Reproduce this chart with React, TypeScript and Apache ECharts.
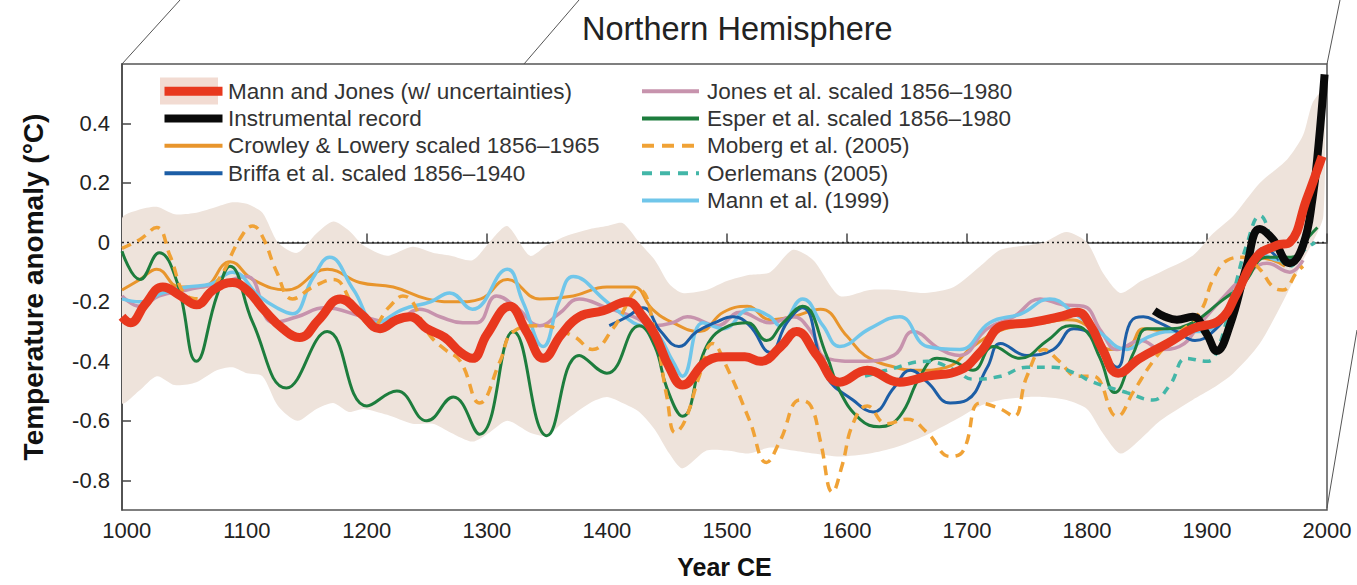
import React, { useEffect, useRef } from 'react';
import * as echarts from 'echarts';

const TITLE = 'Northern Hemisphere';
const X_NAME = 'Year CE';
const Y_NAME = 'Temperature anomaly (°C)';
const X_TICKS = [1000, 1100, 1200, 1300, 1400, 1500, 1600, 1700, 1800, 1900, 2000];
const Y_TICKS = [-0.8, -0.6, -0.4, -0.2, 0, 0.2, 0.4];
const ZERO_LINE: [number, number][] = [[996, 0], [2000, 0]];

const NAMES = {
  mj: 'Mann and Jones (w/ uncertainties)',
  instr: 'Instrumental record',
  crowley: 'Crowley & Lowery scaled 1856–1965',
  briffa: 'Briffa et al. scaled 1856–1940',
  jones: 'Jones et al. scaled 1856–1980',
  esper: 'Esper et al. scaled 1856–1980',
  moberg: 'Moberg et al. (2005)',
  oerlemans: 'Oerlemans (2005)',
  mann99: 'Mann et al. (1999)',
};

// Mann & Jones uncertainty band
const bandYears = [996, 1010, 1025, 1040, 1058, 1075, 1088, 1100, 1113, 1126, 1142, 1158, 1172, 1185, 1197, 1217, 1238, 1255, 1270, 1288, 1302, 1317, 1336, 1350, 1365, 1386, 1400, 1413, 1427, 1440, 1452, 1463, 1483, 1500, 1518, 1536, 1555, 1572, 1594, 1619, 1640, 1665, 1689, 1711, 1728, 1750, 1764, 1783, 1800, 1813, 1828, 1845, 1861, 1888, 1905, 1922, 1944, 1967, 1980, 1988, 1997];
const bandLower = [-0.54, -0.5, -0.45, -0.48, -0.47, -0.43, -0.42, -0.44, -0.45, -0.55, -0.6, -0.56, -0.54, -0.57, -0.56, -0.58, -0.61, -0.61, -0.64, -0.67, -0.64, -0.6, -0.64, -0.65, -0.6, -0.54, -0.52, -0.54, -0.57, -0.63, -0.71, -0.76, -0.7, -0.7, -0.71, -0.69, -0.7, -0.71, -0.72, -0.71, -0.69, -0.65, -0.6, -0.55, -0.53, -0.52, -0.52, -0.53, -0.56, -0.64, -0.71, -0.66, -0.6, -0.53, -0.49, -0.44, -0.34, -0.17, -0.06, 0.0, 0.09];
const bandUpper = [0.08, 0.11, 0.12, 0.095, 0.1, 0.12, 0.135, 0.13, 0.1, 0.0, -0.035, 0.03, 0.07, 0.04, -0.01, -0.045, -0.015, -0.035, -0.045, -0.06, 0.0, 0.055, -0.045, -0.01, 0.02, 0.045, 0.055, 0.065, 0.0, -0.06, -0.14, -0.17, -0.16, -0.13, -0.11, -0.1, -0.025, -0.06, -0.18, -0.16, -0.16, -0.17, -0.15, -0.08, -0.025, -0.01, 0.0, 0.035, 0.0, -0.1, -0.17, -0.13, -0.1, -0.045, 0.03, 0.09, 0.2, 0.28, 0.36, 0.47, 0.51];

const mannJones: [number, number][] = [[996, -0.25], [1003, -0.27], [1015, -0.21], [1030, -0.15], [1045, -0.18], [1058, -0.21], [1072, -0.16], [1088, -0.135], [1100, -0.16], [1115, -0.23], [1130, -0.29], [1144, -0.32], [1160, -0.26], [1178, -0.19], [1195, -0.24], [1211, -0.29], [1225, -0.26], [1236, -0.25], [1250, -0.29], [1265, -0.32], [1278, -0.37], [1288, -0.39], [1300, -0.31], [1319, -0.215], [1333, -0.3], [1347, -0.39], [1362, -0.31], [1377, -0.25], [1397, -0.23], [1417, -0.2], [1430, -0.25], [1440, -0.31], [1452, -0.42], [1463, -0.48], [1483, -0.4], [1500, -0.385], [1515, -0.385], [1528, -0.4], [1545, -0.35], [1558, -0.3], [1575, -0.38], [1594, -0.47], [1617, -0.43], [1644, -0.47], [1667, -0.45], [1694, -0.43], [1711, -0.37], [1730, -0.28], [1753, -0.27], [1777, -0.25], [1792, -0.235], [1803, -0.28], [1813, -0.36], [1826, -0.44], [1844, -0.39], [1867, -0.34], [1888, -0.29], [1911, -0.26], [1925, -0.17], [1941, -0.05], [1958, -0.01], [1969, 0.0], [1983, 0.145], [1996, 0.29]];

const instrumental: [number, number][] = [[1856, -0.23], [1865, -0.25], [1875, -0.26], [1888, -0.25], [1900, -0.31], [1908, -0.365], [1919, -0.28], [1933, -0.08], [1944, 0.045], [1955, 0.01], [1969, -0.07], [1980, -0.01], [1988, 0.15], [1993, 0.33], [1998, 0.565]];

const crowley: [number, number][] = [[996, -0.16], [1011, -0.125], [1025, -0.09], [1044, -0.15], [1063, -0.15], [1086, -0.065], [1105, -0.125], [1133, -0.16], [1167, -0.09], [1194, -0.135], [1222, -0.15], [1250, -0.19], [1275, -0.2], [1295, -0.19], [1317, -0.125], [1344, -0.19], [1372, -0.18], [1400, -0.15], [1422, -0.15], [1438, -0.225], [1455, -0.27], [1477, -0.3], [1497, -0.235], [1517, -0.215], [1536, -0.26], [1555, -0.25], [1578, -0.225], [1600, -0.315], [1615, -0.38], [1640, -0.42], [1660, -0.43], [1683, -0.42], [1705, -0.35], [1725, -0.3], [1744, -0.28], [1765, -0.27], [1783, -0.26], [1800, -0.28], [1819, -0.36], [1835, -0.35], [1847, -0.29], [1870, -0.3], [1890, -0.29], [1910, -0.27], [1925, -0.18], [1940, -0.05], [1955, -0.06], [1965, -0.08]];

const briffa: [number, number][] = [[1402, -0.28], [1417, -0.25], [1430, -0.22], [1445, -0.3], [1460, -0.35], [1475, -0.3], [1490, -0.27], [1505, -0.25], [1519, -0.28], [1536, -0.37], [1550, -0.27], [1563, -0.22], [1583, -0.45], [1605, -0.53], [1622, -0.57], [1639, -0.49], [1653, -0.43], [1667, -0.47], [1686, -0.54], [1700, -0.53], [1717, -0.42], [1728, -0.34], [1750, -0.38], [1772, -0.36], [1789, -0.29], [1800, -0.3], [1812, -0.36], [1825, -0.42], [1836, -0.27], [1847, -0.25], [1860, -0.27], [1875, -0.3], [1890, -0.33], [1905, -0.3], [1920, -0.22], [1935, -0.08], [1948, -0.02], [1960, -0.06]];

const jones: [number, number][] = [[996, -0.18], [1011, -0.215], [1027, -0.18], [1050, -0.16], [1075, -0.14], [1100, -0.115], [1122, -0.27], [1142, -0.25], [1165, -0.22], [1197, -0.25], [1222, -0.27], [1244, -0.225], [1261, -0.25], [1280, -0.27], [1292, -0.27], [1308, -0.18], [1325, -0.22], [1344, -0.28], [1360, -0.24], [1377, -0.19], [1400, -0.22], [1422, -0.25], [1440, -0.28], [1455, -0.27], [1467, -0.25], [1492, -0.28], [1511, -0.235], [1536, -0.27], [1555, -0.25], [1570, -0.3], [1583, -0.39], [1611, -0.4], [1639, -0.38], [1655, -0.3], [1678, -0.36], [1694, -0.38], [1717, -0.29], [1739, -0.25], [1761, -0.19], [1780, -0.21], [1797, -0.215], [1812, -0.3], [1825, -0.36], [1845, -0.33], [1862, -0.36], [1877, -0.35], [1895, -0.27], [1917, -0.17], [1935, -0.1], [1950, -0.07], [1969, -0.1], [1980, -0.06]];

const esper: [number, number][] = [[996, -0.03], [1011, -0.125], [1027, -0.035], [1042, -0.135], [1058, -0.4], [1075, -0.18], [1086, -0.08], [1105, -0.27], [1133, -0.49], [1167, -0.3], [1200, -0.55], [1225, -0.5], [1250, -0.6], [1272, -0.52], [1294, -0.645], [1322, -0.3], [1350, -0.65], [1377, -0.38], [1400, -0.44], [1427, -0.28], [1440, -0.35], [1450, -0.49], [1463, -0.585], [1483, -0.35], [1502, -0.28], [1517, -0.27], [1533, -0.33], [1547, -0.27], [1563, -0.215], [1583, -0.38], [1594, -0.5], [1611, -0.595], [1627, -0.62], [1644, -0.585], [1661, -0.45], [1675, -0.39], [1689, -0.4], [1705, -0.43], [1722, -0.35], [1744, -0.39], [1767, -0.33], [1786, -0.28], [1797, -0.29], [1811, -0.39], [1823, -0.505], [1839, -0.37], [1850, -0.29], [1867, -0.29], [1888, -0.27], [1911, -0.2], [1930, -0.14], [1950, -0.05], [1970, -0.05], [1985, 0.02], [1992, 0.05]];

const moberg: [number, number][] = [[996, -0.02], [1011, 0.01], [1025, 0.05], [1036, -0.045], [1050, -0.18], [1062, -0.19], [1078, -0.115], [1094, 0.01], [1105, 0.055], [1113, 0.02], [1125, -0.1], [1138, -0.19], [1155, -0.15], [1172, -0.125], [1190, -0.22], [1205, -0.28], [1218, -0.22], [1230, -0.18], [1253, -0.315], [1265, -0.36], [1278, -0.4], [1294, -0.54], [1311, -0.4], [1322, -0.3], [1344, -0.28], [1372, -0.315], [1388, -0.36], [1405, -0.29], [1427, -0.16], [1440, -0.3], [1450, -0.52], [1457, -0.64], [1465, -0.6], [1477, -0.45], [1488, -0.34], [1500, -0.42], [1519, -0.6], [1533, -0.74], [1544, -0.67], [1561, -0.53], [1570, -0.55], [1578, -0.67], [1588, -0.84], [1596, -0.75], [1605, -0.61], [1617, -0.55], [1633, -0.61], [1650, -0.595], [1667, -0.64], [1686, -0.72], [1697, -0.7], [1711, -0.54], [1728, -0.56], [1739, -0.585], [1750, -0.45], [1764, -0.36], [1777, -0.4], [1792, -0.45], [1805, -0.45], [1825, -0.585], [1839, -0.5], [1855, -0.4], [1870, -0.33], [1894, -0.235], [1905, -0.125], [1917, -0.06], [1930, -0.05], [1944, -0.09], [1955, -0.15], [1963, -0.16], [1975, -0.1], [1980, -0.08]];

const oerlemans: [number, number][] = [[1615, -0.45], [1633, -0.43], [1667, -0.4], [1690, -0.43], [1705, -0.46], [1728, -0.45], [1750, -0.42], [1772, -0.42], [1790, -0.44], [1805, -0.47], [1833, -0.505], [1855, -0.53], [1869, -0.48], [1883, -0.39], [1900, -0.4], [1908, -0.37], [1922, -0.17], [1933, -0.01], [1944, 0.09], [1958, -0.035], [1969, -0.08], [1980, -0.03], [1990, 0.0]];

const mann99: [number, number][] = [[996, -0.19], [1011, -0.2], [1030, -0.17], [1050, -0.15], [1070, -0.14], [1088, -0.1], [1110, -0.18], [1125, -0.22], [1138, -0.24], [1155, -0.12], [1169, -0.05], [1189, -0.16], [1208, -0.27], [1230, -0.225], [1253, -0.2], [1269, -0.17], [1288, -0.225], [1317, -0.09], [1330, -0.2], [1347, -0.35], [1360, -0.2], [1372, -0.115], [1400, -0.2], [1422, -0.27], [1440, -0.3], [1455, -0.4], [1463, -0.45], [1480, -0.27], [1497, -0.29], [1519, -0.225], [1536, -0.25], [1544, -0.28], [1563, -0.19], [1580, -0.28], [1594, -0.35], [1619, -0.29], [1644, -0.25], [1667, -0.35], [1694, -0.36], [1719, -0.27], [1745, -0.24], [1769, -0.19], [1790, -0.24], [1810, -0.3], [1833, -0.36], [1850, -0.32], [1870, -0.3], [1890, -0.3], [1910, -0.27], [1930, -0.12], [1945, -0.04], [1960, -0.06], [1975, -0.05], [1980, -0.02]];

const COLORS = {
  mj: '#e8381e',
  instr: '#0a0a0a',
  crowley: '#e8952c',
  briffa: '#1c5ea6',
  jones: '#c793ad',
  esper: '#1d7d3d',
  moberg: '#f0a236',
  oerlemans: '#43b6a8',
  mann99: '#70c6ea',
  band: '#eee3db',
  bandLegend: '#f2dbd2',
};

const FONT = 'Liberation Sans, Arial, Helvetica, sans-serif';
const LEGEND_FONT = 22.5;

function lineSeries(name: string, data: [number, number][], color: string, width: number, type: any = 'solid', z = 3) {
  return {
    type: 'line',
    name,
    data,
    smooth: 0.45,
    symbol: 'none',
    silent: true,
    z,
    lineStyle: { color, width, type },
    itemStyle: { color, opacity: 0 },
  };
}

function legendItem(name: string, width: number, type: any = 'inherit') {
  return { name, lineStyle: { width, type } };
}

export default function App() {
  const ref = useRef<HTMLDivElement>(null);
  useEffect(() => {
    const chart = echarts.init(ref.current!, null, { renderer: 'svg' });
    const legendCommon = {
      orient: 'vertical',
      itemHeight: 14,
      itemGap: 26.8 - LEGEND_FONT,
      padding: 0,
      z: 5,
      selectedMode: false,
      itemStyle: { opacity: 0 },
      lineStyle: { width: 4 },
    };
    const option: any = {
      animation: false,
      backgroundColor: '#ffffff',
      textStyle: { fontFamily: FONT },
      title: {
        text: TITLE,
        left: 582,
        top: 12,
        padding: 0,
        textStyle: { fontSize: 32.5, fontWeight: 'normal', color: '#222', fontFamily: FONT },
      },
      grid: { left: 122, right: 30, top: 64, bottom: 75, show: true, borderColor: '#555', borderWidth: 1.5, backgroundColor: 'transparent' },
      legend: [
        {
          ...legendCommon,
          left: 160,
          top: 91 - LEGEND_FONT / 2,
          itemWidth: 58,
          textStyle: { fontSize: LEGEND_FONT, color: '#333', fontFamily: FONT, padding: [0, 0, 0, 0.5] },
          data: [legendItem(NAMES.mj, 9), legendItem(NAMES.instr, 8), legendItem(NAMES.crowley, 4), legendItem(NAMES.briffa, 4)],
        },
        {
          ...legendCommon,
          left: 640,
          top: 91 - LEGEND_FONT / 2,
          itemWidth: 57,
          textStyle: { fontSize: LEGEND_FONT, color: '#333', fontFamily: FONT, padding: [0, 0, 0, 3] },
          data: [legendItem(NAMES.jones, 4), legendItem(NAMES.esper, 4), legendItem(NAMES.moberg, 4, [12, 8]), legendItem(NAMES.oerlemans, 4, [10, 8]), legendItem(NAMES.mann99, 4)],
        },
      ],
      xAxis: {
        type: 'value',
        min: 996,
        max: 2000,
        name: X_NAME,
        nameLocation: 'middle',
        nameGap: 44,
        nameTextStyle: { fontSize: 25, fontWeight: 'bold', color: '#111', fontFamily: FONT },
        splitLine: { show: false },
        axisLine: { show: true, lineStyle: { color: '#444', width: 1.5 } },
        axisTick: { show: true, inside: true, length: 9, customValues: X_TICKS, lineStyle: { color: '#444', width: 1.5 } },
        axisLabel: { customValues: X_TICKS, formatter: (v: number) => String(v), fontSize: 22, color: '#222', margin: 9, fontFamily: FONT },
      },
      yAxis: {
        type: 'value',
        min: -0.9,
        max: 0.6,
        name: Y_NAME,
        nameLocation: 'middle',
        nameGap: 75,
        nameTextStyle: { fontSize: 28, fontWeight: 'bold', color: '#111', fontFamily: FONT },
        splitLine: { show: false },
        axisLine: { show: true, lineStyle: { color: '#444', width: 1.5 } },
        axisTick: { show: true, inside: true, length: 9, customValues: Y_TICKS, lineStyle: { color: '#444', width: 1.5 } },
        axisLabel: {
          customValues: Y_TICKS,
          formatter: (v: number) => (Math.abs(v) < 1e-9 ? '0' : v.toFixed(1)),
          fontSize: 22,
          color: '#222',
          margin: 12,
          fontFamily: FONT,
        },
      },
      graphic: [
        { type: 'line', shape: { x1: 122, y1: 64, x2: 180, y2: 0 }, style: { stroke: '#555', lineWidth: 1 }, z: 0, silent: true },
        { type: 'line', shape: { x1: 524, y1: 64, x2: 579, y2: 0 }, style: { stroke: '#555', lineWidth: 1 }, z: 0, silent: true },
        { type: 'line', shape: { x1: 1327, y1: 64, x2: 1340, y2: 0 }, style: { stroke: '#555', lineWidth: 1 }, z: 0, silent: true },
        { type: 'line', shape: { x1: 1327, y1: 508, x2: 1357, y2: 330 }, style: { stroke: '#555', lineWidth: 1 }, z: 0, silent: true },
        { type: 'rect', shape: { x: 160, y: 77.5, width: 58, height: 27 }, style: { fill: COLORS.bandLegend }, z: 1, silent: true },
      ],
      series: [
        {
          type: 'custom',
          name: '_band',
          silent: true,
          z: 1,
          clip: true,
          data: [[bandYears[0], bandLower[0]]],
          encode: { x: 0, y: 1 },
          renderItem: (params: any, api: any) => {
            const pts: number[][] = [];
            for (let i = 0; i < bandYears.length; i++) pts.push(api.coord([bandYears[i], bandUpper[i]]));
            for (let i = bandYears.length - 1; i >= 0; i--) pts.push(api.coord([bandYears[i], bandLower[i]]));
            return {
              type: 'polygon',
              shape: { points: pts, smooth: 0.25 },
              style: { fill: COLORS.band, stroke: null },
            };
          },
        },
        {
          type: 'line',
          name: '_zero',
          data: ZERO_LINE,
          symbol: 'none',
          silent: true,
          z: 2,
          lineStyle: { color: '#222', type: [2, 3], width: 1.5 },
        },
        lineSeries(NAMES.crowley, crowley, COLORS.crowley, 3),
        lineSeries(NAMES.jones, jones, COLORS.jones, 3.5),
        lineSeries(NAMES.mann99, mann99, COLORS.mann99, 3.5),
        lineSeries(NAMES.briffa, briffa, COLORS.briffa, 3),
        lineSeries(NAMES.esper, esper, COLORS.esper, 3),
        lineSeries(NAMES.moberg, moberg, COLORS.moberg, 3.5, [10, 7]),
        lineSeries(NAMES.oerlemans, oerlemans, COLORS.oerlemans, 3.5, [8, 7]),
        lineSeries(NAMES.instr, instrumental, COLORS.instr, 8, 'solid', 4),
        lineSeries(NAMES.mj, mannJones, COLORS.mj, 9, 'solid', 5),
      ],
    };
    chart.setOption(option);
    return () => chart.dispose();
  }, []);
  return <div ref={ref} style={{ position: 'absolute', left: 0, top: 0, width: 1357, height: 585 }} />;
}
